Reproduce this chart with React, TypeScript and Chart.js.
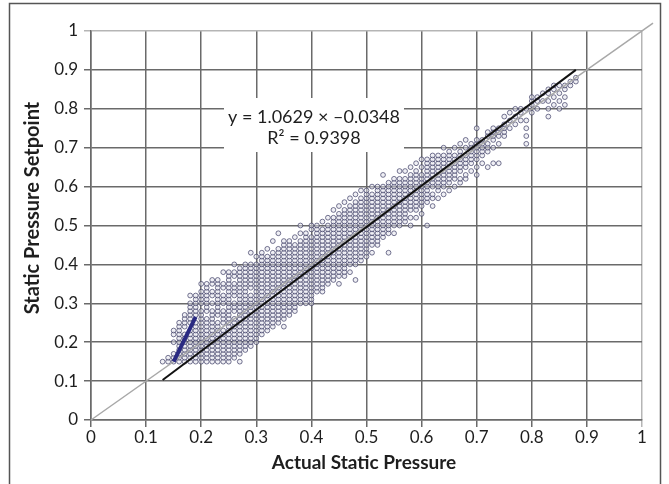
import React, { useEffect, useRef } from 'react';
import { Chart, registerables } from 'chart.js';
Chart.register(...registerables);

// x positions of the scatter columns (hundredths)
const scatterX: number[] = [
  13, 14, 15, 16, 17, 18, 19, 20, 21, 22, 23, 24, 25, 26, 27, 28, 29, 30, 31, 32,
  33, 34, 35, 36, 37, 38, 39, 40, 41, 42, 43, 44, 45, 46, 47, 48, 49, 50, 51, 52,
  53, 54, 55, 56, 57, 58, 59, 60, 61, 62, 63, 64, 65, 66, 67, 68, 69, 70, 71, 72,
  73, 74, 75, 76, 77, 78, 79, 80, 81, 82, 83, 84, 85, 86, 87, 88,
];

// y values (hundredths) for each column above
const scatterY: number[][] = [
  [15],
  [15, 16],
  [15, 16, 17, 20, 22, 23],
  [15, 16, 17, 18, 19, 20, 21, 22, 23, 24, 25],
  [15, 16, 17, 18, 19, 20, 21, 22, 24, 25, 26, 27],
  [15, 16, 17, 18, 19, 20, 21, 22, 23, 25, 26, 27, 28, 29, 30, 32],
  [15, 16, 17, 18, 19, 20, 21, 22, 23, 24, 25, 27, 28, 29, 30, 31, 32],
  [15, 16, 17, 18, 19, 20, 21, 22, 23, 24, 25, 26, 27, 28, 30, 31, 32, 33, 35],
  [15, 16, 17, 18, 19, 20, 21, 22, 23, 24, 25, 26, 28, 29, 30, 31, 32, 33, 34, 35],
  [15, 16, 17, 18, 19, 20, 21, 22, 23, 24, 25, 26, 27, 28, 30, 32, 33, 35, 36],
  [15, 16, 17, 18, 19, 20, 21, 22, 23, 24, 25, 27, 28, 29, 30, 31, 32, 33, 34, 35, 36],
  [15, 16, 17, 18, 19, 20, 21, 22, 23, 25, 26, 27, 28, 30, 31, 32, 34, 35, 38],
  [15, 16, 17, 18, 19, 20, 21, 22, 23, 24, 25, 26, 27, 28, 29, 30, 31, 32, 33, 34, 35, 36, 37, 38],
  [16, 17, 18, 19, 20, 21, 22, 23, 24, 25, 26, 28, 29, 30, 32, 33, 34, 35, 37, 38, 40],
  [15, 17, 18, 19, 20, 21, 22, 23, 24, 25, 26, 27, 28, 29, 30, 31, 32, 33, 34, 35, 36, 37, 38, 39],
  [18, 19, 20, 21, 22, 23, 24, 25, 26, 27, 28, 29, 30, 31, 32, 33, 34, 35, 36, 37, 38, 39, 40],
  [19, 20, 21, 22, 23, 24, 25, 26, 27, 28, 29, 30, 31, 32, 34, 35, 36, 37, 38, 39, 40, 43],
  [20, 21, 22, 23, 24, 25, 26, 27, 28, 29, 30, 31, 32, 33, 34, 35, 36, 37, 38, 39, 40, 42],
  [22, 23, 24, 25, 26, 27, 28, 29, 30, 31, 32, 33, 34, 35, 36, 37, 38, 39, 40, 41, 42, 43],
  [23, 24, 25, 26, 27, 28, 29, 30, 31, 32, 33, 34, 35, 36, 37, 38, 39, 40, 41, 42, 44],
  [24, 25, 26, 27, 28, 29, 30, 31, 32, 33, 34, 35, 36, 37, 38, 39, 40, 41, 42, 43, 46],
  [25, 26, 27, 28, 29, 30, 31, 32, 33, 34, 35, 36, 37, 38, 39, 40, 41, 42, 43, 44, 48],
  [24, 26, 27, 28, 29, 30, 31, 32, 33, 34, 35, 36, 37, 38, 39, 40, 41, 42, 43, 44, 45, 46],
  [27, 28, 29, 30, 31, 32, 33, 34, 35, 36, 37, 38, 39, 40, 41, 42, 43, 44, 45, 46],
  [28, 29, 30, 31, 32, 33, 34, 35, 36, 37, 38, 39, 40, 41, 42, 43, 44, 45, 47],
  [30, 31, 32, 33, 34, 35, 36, 37, 38, 39, 40, 41, 42, 43, 44, 45, 46, 48, 50],
  [30, 31, 32, 33, 34, 35, 36, 37, 38, 39, 40, 41, 42, 43, 44, 45, 46, 47, 48],
  [30, 31, 32, 33, 34, 35, 36, 37, 38, 39, 40, 41, 42, 43, 44, 45, 46, 47, 49, 50],
  [33, 34, 35, 36, 37, 38, 39, 40, 41, 42, 43, 44, 45, 46, 47, 48, 49, 50],
  [33, 34, 35, 36, 37, 38, 39, 40, 41, 42, 43, 44, 45, 46, 47, 48, 49, 51],
  [35, 36, 37, 38, 39, 40, 41, 42, 43, 44, 45, 46, 47, 48, 49, 50, 52],
  [36, 37, 38, 39, 40, 41, 42, 43, 44, 45, 46, 47, 48, 49, 50, 51, 52, 54],
  [35, 37, 38, 39, 40, 41, 42, 43, 44, 45, 46, 47, 48, 49, 50, 51, 52, 53, 55],
  [37, 38, 39, 40, 41, 42, 43, 44, 45, 46, 47, 48, 49, 50, 51, 52, 53, 54, 56],
  [38, 40, 41, 42, 43, 44, 45, 46, 47, 48, 49, 50, 51, 52, 53, 54, 55, 57],
  [36, 40, 41, 42, 43, 44, 45, 46, 47, 48, 49, 50, 51, 52, 53, 54, 55, 56, 58],
  [41, 42, 43, 44, 45, 46, 47, 48, 49, 50, 51, 52, 53, 54, 55, 56, 57, 59],
  [42, 43, 44, 45, 46, 47, 48, 49, 50, 51, 52, 53, 54, 55, 56, 57, 58, 59],
  [43, 45, 46, 47, 48, 49, 50, 51, 52, 53, 54, 55, 56, 57, 58, 60],
  [45, 46, 47, 48, 49, 50, 51, 52, 53, 54, 55, 56, 57, 58, 59, 60],
  [47, 48, 49, 50, 51, 52, 53, 54, 55, 56, 57, 58, 59, 60, 63],
  [43, 48, 49, 50, 51, 52, 53, 54, 55, 56, 57, 58, 59, 60, 61],
  [48, 50, 51, 52, 53, 54, 55, 56, 57, 58, 59, 60, 61, 62],
  [50, 51, 52, 53, 54, 55, 56, 57, 58, 59, 60, 61, 62, 64],
  [51, 52, 53, 54, 55, 56, 57, 58, 59, 60, 61, 62, 64],
  [50, 52, 54, 55, 56, 57, 58, 59, 60, 61, 62, 63, 65],
  [52, 54, 55, 56, 57, 58, 59, 60, 61, 62, 63, 64, 66],
  [53, 55, 56, 57, 58, 59, 60, 61, 62, 63, 65, 67],
  [50, 56, 57, 58, 59, 60, 61, 62, 63, 64, 65, 66, 67],
  [55, 57, 58, 60, 61, 62, 63, 64, 65, 66, 67, 68],
  [57, 59, 60, 61, 62, 63, 64, 65, 66, 67, 68],
  [58, 60, 61, 62, 63, 64, 65, 66, 67, 68, 70],
  [59, 61, 62, 63, 64, 65, 66, 67, 68, 69],
  [60, 62, 63, 64, 65, 66, 67, 68, 70],
  [61, 62, 64, 65, 66, 67, 68, 69, 71],
  [62, 63, 65, 66, 67, 68, 70, 72],
  [64, 66, 67, 68, 69, 70, 71],
  [63, 65, 67, 68, 69, 70, 71, 72, 75],
  [66, 68, 69, 70, 71, 72],
  [65, 69, 70, 71, 73, 74],
  [66, 70, 72, 73, 74, 75],
  [66, 71, 73, 74, 75],
  [73, 74, 75, 76, 78],
  [75, 77, 79],
  [76, 78, 80],
  [77, 79, 80],
  [71, 73, 75, 77, 80],
  [79, 81, 82, 83],
  [80, 82, 83],
  [82, 84],
  [78, 80, 82, 84, 85],
  [81, 83, 85, 86],
  [80, 82, 84, 86],
  [81, 83, 85, 86],
  [86, 87],
  [87, 88],
];

const fitLine = [
  { x: 0.13, y: 0.103 },
  { x: 0.88, y: 0.9 },
];
const identityLine = [
  { x: 0, y: 0 },
  { x: 1.02, y: 1.02 },
];
const blueSegment = [
  { x: 0.15, y: 0.15 },
  { x: 0.19, y: 0.265 },
];

const xTitle = 'Actual Static Pressure';
const yTitle = 'Static Pressure Setpoint';
const equationLine = 'y = 1.0629 \u00d7 \u20130.0348';
const r2Line = 'R\u00b2 = 0.9398';

const FONT = 'Lato, "Open Sans", sans-serif';

export default function App() {
  const ref = useRef<HTMLCanvasElement | null>(null);

  useEffect(() => {
    document.body.style.margin = '0';
    const canvas = ref.current;
    if (!canvas) return;

    const points: { x: number; y: number }[] = [];
    scatterX.forEach((xv, i) => {
      scatterY[i].forEach((yv) => points.push({ x: xv / 100, y: yv / 100 }));
    });

    const overlay = {
      id: 'overlay',
      afterDatasetsDraw(chart: any) {
        const c = chart.ctx;
        c.save();
        c.fillStyle = '#ffffff';
        c.fillRect(224, 98, 180, 54);
        c.fillStyle = '#1e1e1e';
        c.font = `18px ${FONT}`;
        c.textAlign = 'center';
        c.textBaseline = 'middle';
        c.fillText(equationLine, 314, 117);
        c.fillText(r2Line, 314, 138);
        c.restore();
      },
      afterDraw(chart: any) {
        const c = chart.ctx;
        c.save();
        c.strokeStyle = '#555555';
        c.lineWidth = 1.5;
        c.strokeRect(9.5, 3.5, 651, 500);
        c.fillStyle = '#1e1e1e';
        c.font = `bold 19px ${FONT}`;
        c.textAlign = 'center';
        c.textBaseline = 'middle';
        c.fillText(xTitle, 364, 463);
        c.font = `bold 20px ${FONT}`;
        c.translate(33, 208);
        c.rotate(-Math.PI / 2);
        c.fillText(yTitle, 0, 0);
        c.restore();
      },
    };

    const gridColor = (ctx: any) =>
      ctx.tick && ctx.tick.value === 1 ? '#b5b5b5' : '#6a6a6a';
    const fmt = (v: any) => String(Math.round(Number(v) * 10) / 10);

    const chart = new Chart(canvas, {
      type: 'scatter',
      data: {
        datasets: [
          {
            data: blueSegment,
            type: 'line',
            borderColor: '#2a2a82',
            borderWidth: 4,
            pointRadius: 0,
            fill: false,
          } as any,
          {
            data: fitLine,
            type: 'line',
            borderColor: '#111111',
            borderWidth: 2,
            pointRadius: 0,
            fill: false,
          } as any,
          {
            data: identityLine,
            type: 'line',
            borderColor: '#a8a8a8',
            borderWidth: 1.5,
            pointRadius: 0,
            fill: false,
            clip: false,
          } as any,
          {
            data: points,
            pointRadius: 2.4,
            pointBorderWidth: 1,
            pointBorderColor: 'rgba(60,60,100,0.7)',
            pointBackgroundColor: 'rgba(225,225,236,0.5)',
          } as any,
        ],
      },
      options: {
        responsive: false,
        animation: false,
        layout: { padding: { left: 0, top: 31, right: 27, bottom: 0 } },
        plugins: {
          legend: { display: false },
          tooltip: { enabled: false },
        },
        scales: {
          x: {
            type: 'linear',
            min: 0,
            max: 1,
            afterFit: (s: any) => {
              s.height = 64;
            },
            ticks: {
              stepSize: 0.1,
              color: '#1e1e1e',
              font: { family: FONT, size: 17 },
              padding: 0,
              maxRotation: 0,
              callback: fmt,
            },
            grid: { color: gridColor, lineWidth: 1.5, tickLength: 7 },
            border: { color: '#6a6a6a', width: 1.5 },
          },
          y: {
            type: 'linear',
            min: 0,
            max: 1,
            afterFit: (s: any) => {
              s.width = 91;
            },
            ticks: {
              stepSize: 0.1,
              color: '#1e1e1e',
              font: { family: FONT, size: 17 },
              padding: 6,
              callback: fmt,
            },
            grid: { color: gridColor, lineWidth: 1.5, tickLength: 7 },
            border: { color: '#6a6a6a', width: 1.5 },
          },
        },
      },
      plugins: [overlay],
    });

    return () => chart.destroy();
  }, []);

  return (
    <div style={{ width: 669, height: 484 }}>
      <canvas ref={ref} width={669} height={484} style={{ display: 'block' }} />
    </div>
  );
}
